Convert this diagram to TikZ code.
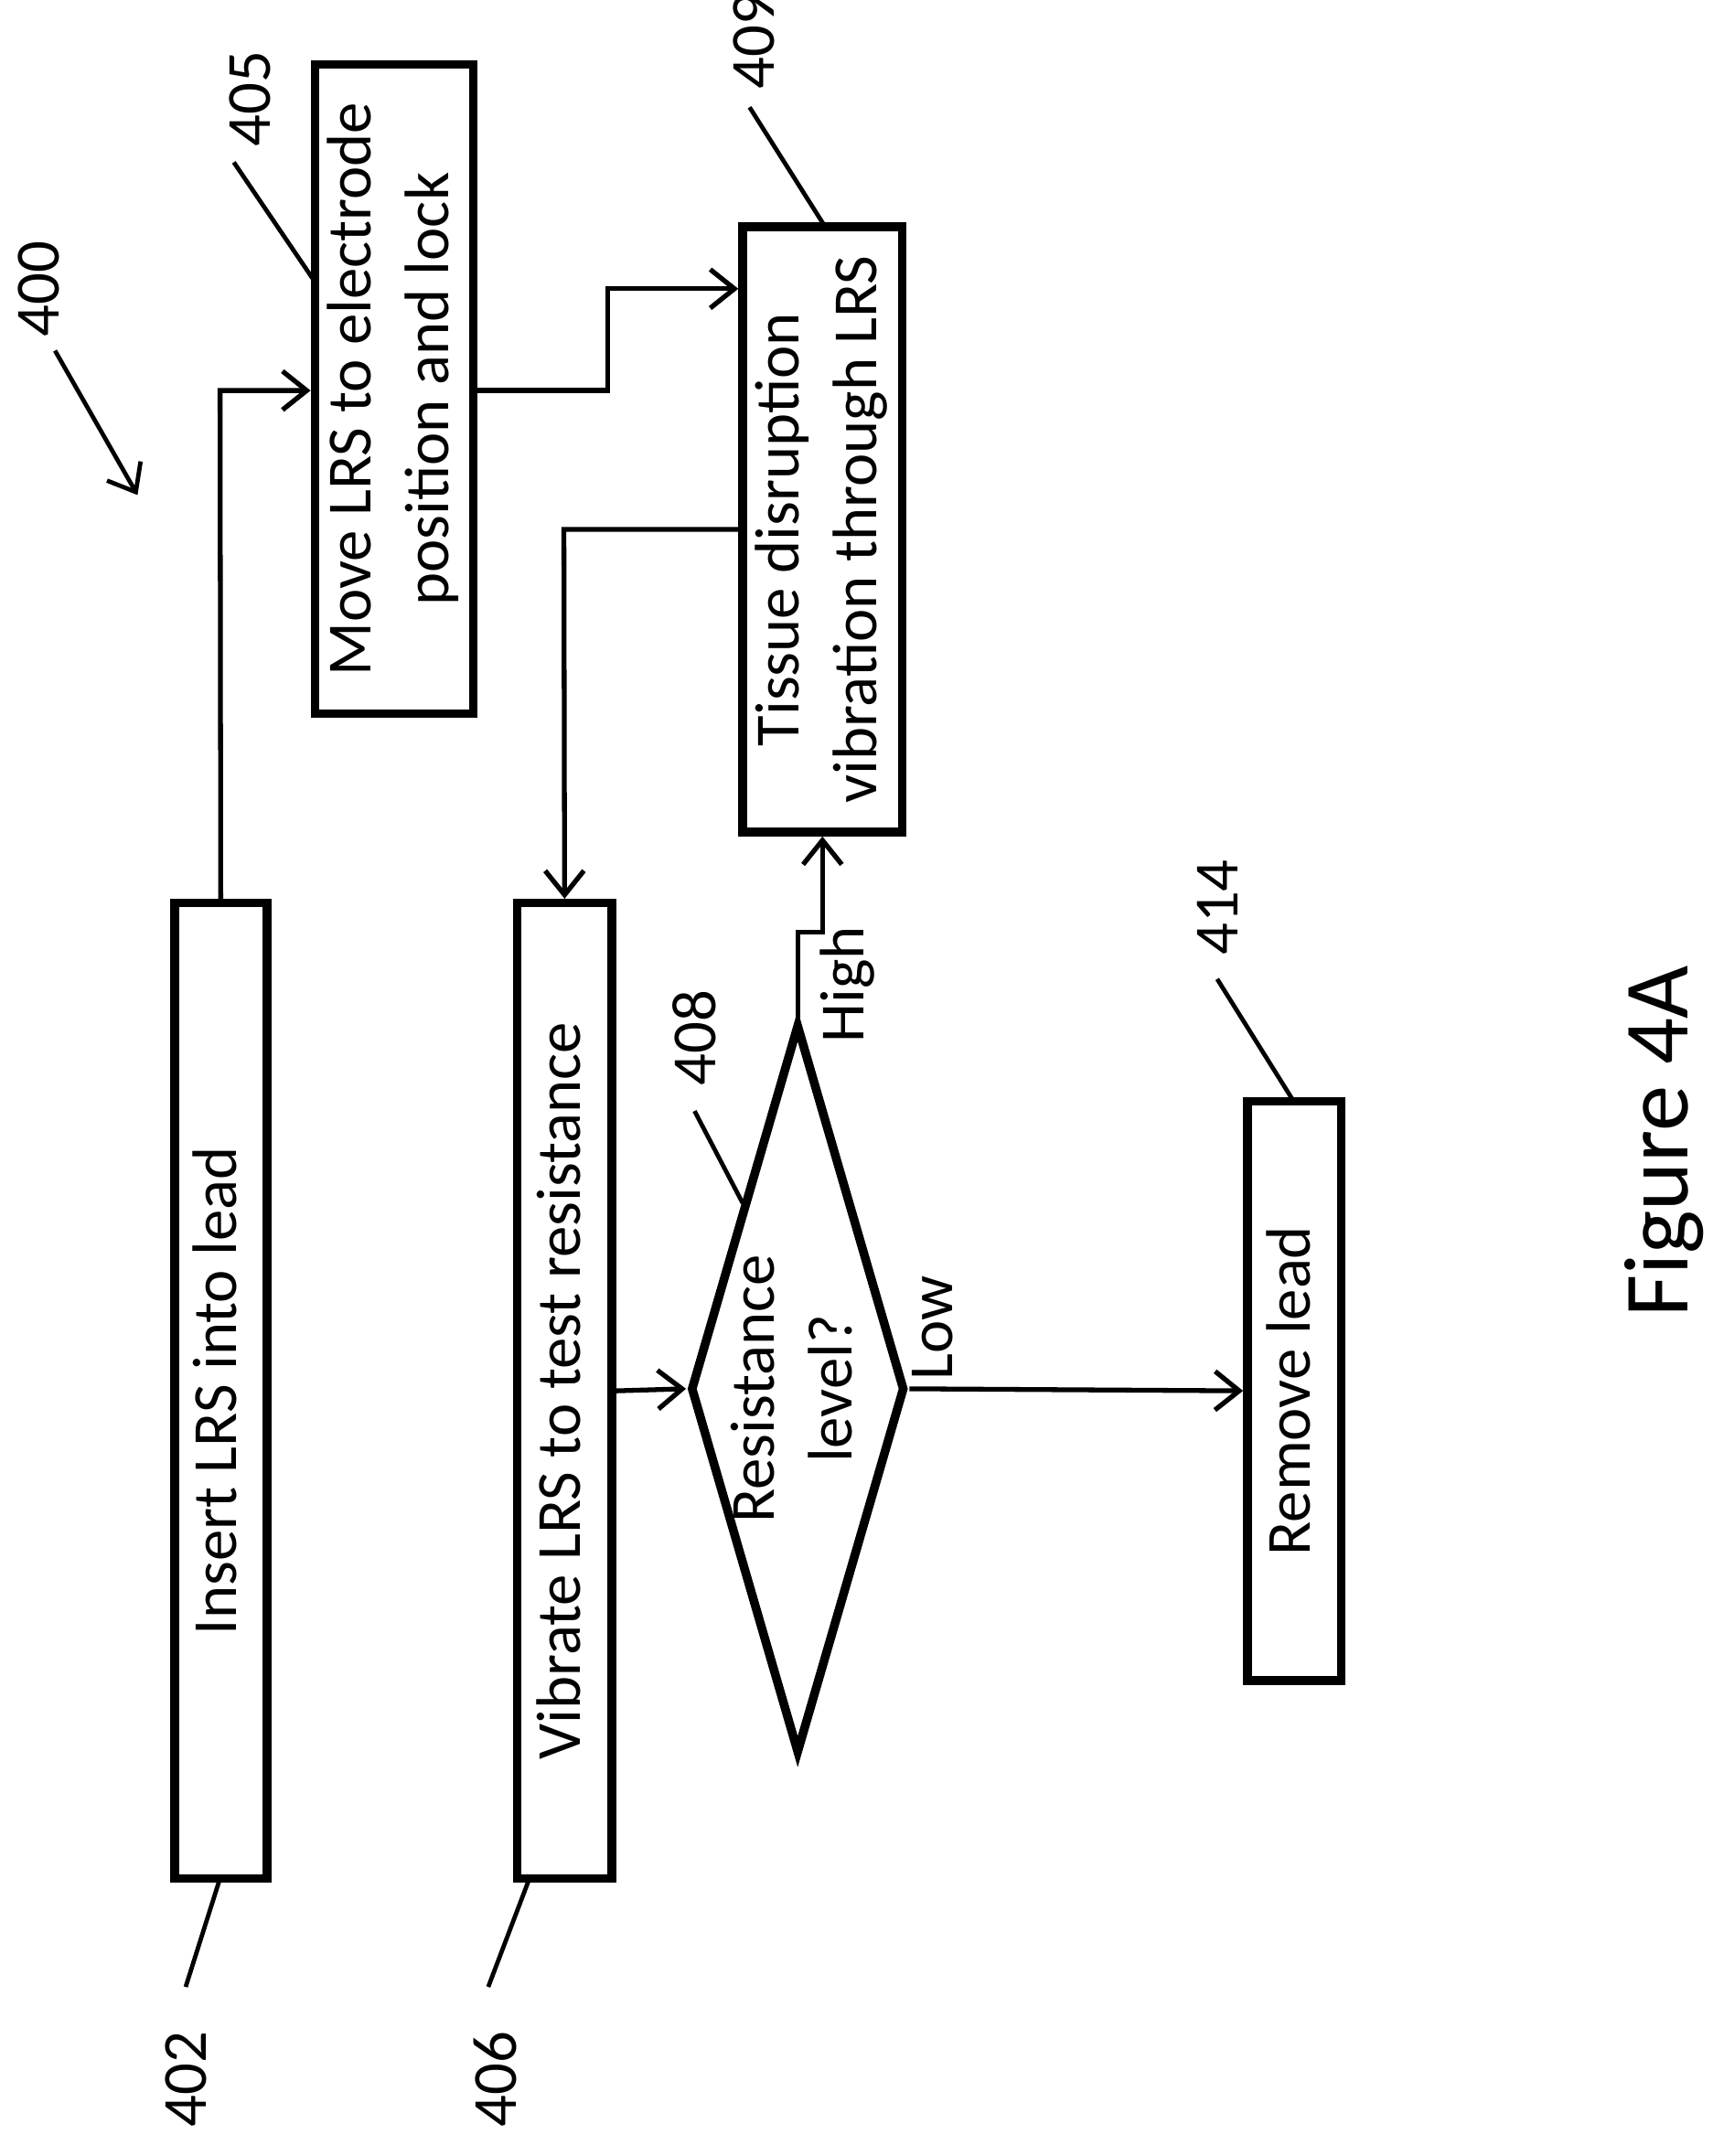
\documentclass[tikz,border=0pt]{standalone}
\usepackage{fontspec}
\setmainfont{Carlito}
\usetikzlibrary{shapes.geometric,arrows.meta}
\tikzset{
  box/.style={draw,line width=1.8pt,inner sep=0pt,font=\fontsize{13}{16}\selectfont},
  link/.style={line width=1pt,-{Straight Barb[length=5pt,width=8pt]}},
  lead/.style={line width=0.9pt},
  num/.style={font=\fontsize{13}{16}\selectfont,rotate=90}
}
\newcommand{\up}[1]{\rotatebox{90}{\begin{tabular}{@{}c@{}}#1\end{tabular}}}
\begin{document}
\begin{tikzpicture}[x=0.01cm,y=-0.01cm]
\useasboundingbox (0,0) rectangle (1245,1568);

%boxes
\node[box,minimum width=0.67cm,minimum height=7.09cm] (insert) at (160.5,1011.5) {\up{Insert LRS into lead}};
\node[box,minimum width=0.69cm,minimum height=7.09cm] (vibrate) at (410.5,1011.5) {\up{Vibrate LRS to test resistance}};
\node[box,minimum width=1.15cm,minimum height=4.72cm] (move) at (286.5,283) {\up{Move LRS to electrode\\position and lock}};
\node[box,minimum width=1.16cm,minimum height=4.40cm] (tissue) at (598,385) {\up{Tissue disruption\\vibration through LRS}};
\node[box,diamond,minimum width=1.56cm,minimum height=5.3cm] (level) at (580,1010) {};
\node[num,font=\fontsize{13}{16}\selectfont] (leveltext) at (level.center) {\begin{tabular}{@{}c@{}}Resistance\\level?\end{tabular}};
\node[box,minimum width=0.68cm,minimum height=4.21cm] (remove) at (941,1011.5) {\up{Remove lead}};

%archi
\draw[link] (insert.north) -- (160,284) -- (move.west |- 0,284);
\draw[link] (move.east |- 0,284) -- (442,284) -- (442,210) -- (tissue.west |- 0,210);
\draw[link] (tissue.west |- 0,385) -- (410,385) -- (vibrate.north);
\draw[link] (vibrate.east) -- (level.west);
\draw[link] (level.north) -- (580,678) -- (598,678) -- (tissue.south);
\draw[link] (level.east) -- (remove.west);
\node[num] (high) at (616,716) {High};
\node[num] (low) at (678,966) {Low};

%numeri
\node[num] (n400) at (28,210) {400};
\draw[lead,-{Straight Barb[length=5pt,width=8pt]}] (40,255) -- (100,360);
\node[num] (n405) at (182,72) {405};
\draw[lead] (170,118) -- (229,205);
\node[num] (n409) at (548,30) {409};
\draw[lead] (545,78) -- (600,165);
\node[num] (n408) at (505,755) {408};
\draw[lead] (505,808) -- (540,875);
\node[num] (n414) at (885,660) {414};
\draw[lead] (885,712) -- (940,800);
\node[num] (n402) at (135,1512) {402};
\draw[lead] (135,1445) -- (160,1366);
\node[num] (n406) at (360,1512) {406};
\draw[lead] (355,1445) -- (385,1366);
\node[rotate=90,font=\fontsize{19}{23}\selectfont] (fig) at (1210,830) {Figure 4A};
\end{tikzpicture}
\end{document}
